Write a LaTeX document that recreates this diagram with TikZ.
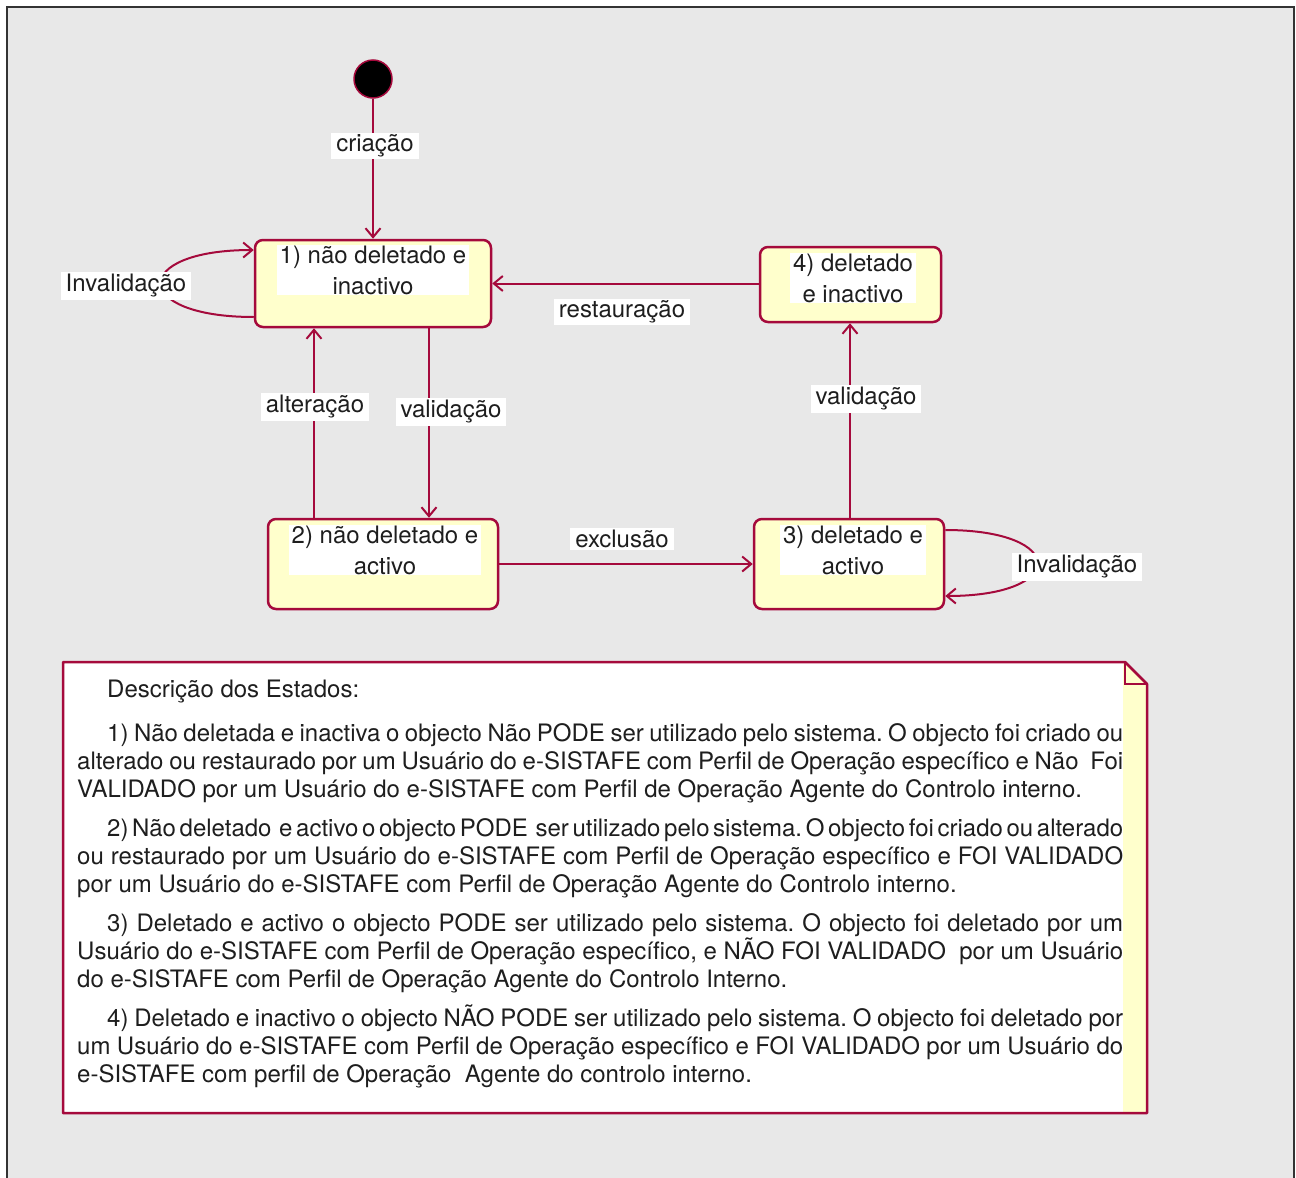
\documentclass[tikz,border=0pt]{standalone}
\usepackage{fontspec}
\setmainfont{TeX Gyre Heros}
\usepackage{tikz}
\usetikzlibrary{arrows.meta, positioning, calc}
\definecolor{umlred}{RGB}{165,10,60}
\definecolor{umlyellow}{RGB}{255,255,204}
\definecolor{bggray}{RGB}{232,232,232}
\definecolor{txtdark}{RGB}{30,30,30}
\newcommand\diagfont{\fontsize{24}{31}\selectfont}
\newcommand\notefont{\fontsize{24}{28}\selectfont\spaceskip=0.278em plus 0.4em minus 0.16em\relax
  \frenchspacing\hyphenpenalty=10000\relax}
\tikzset{
  state/.style={rectangle, draw=umlred, fill=umlyellow, line width=2.5pt,
    rounded corners=8pt, inner sep=0pt},
  statetext/.style={fill=white, text=txtdark, align=center, font=\diagfont,
    inner xsep=3pt, inner ysep=1pt},
  lbl/.style={fill=white, text=txtdark, font=\diagfont, inner xsep=5pt, inner ysep=2pt},
  trans/.style={-{Straight Barb[length=9pt, width=15pt, line width=2pt]},
    draw=umlred, line width=2pt},
  initial/.style={circle, draw=umlred, fill=black, line width=1.5pt,
    minimum size=38pt, inner sep=0pt}
}

\begin{document}
\begin{tikzpicture}[x=1pt, y=-1pt]
  % Frame
  \useasboundingbox (0,0) rectangle (1296,1178);
  \fill[white] (0,0) rectangle (1296,1178);
  \fill[bggray] (7,7) rectangle (1294,1178);
  \draw[line width=2pt, draw=black!80] (7,1178) -- (7,7) -- (1294,7) -- (1294,1178);

  % States
  \node[initial] (init) at (373,79) {};
  \node[state, minimum width=236pt, minimum height=87pt] (s1) at (373,283.5) {};
  \node[state, minimum width=230pt, minimum height=90pt] (s2) at (383,564) {};
  \node[state, minimum width=190pt, minimum height=90pt] (s3) at (849,564) {};
  \node[state, minimum width=181pt, minimum height=75pt] (s4) at (850.5,284.5) {};

  % Transitions
  \coordinate (s2a) at (314,519);
  \coordinate (s1b) at (429,327);
  \coordinate (s3a) at (850,519);
  \draw[trans] (init) -- (s1);
  \draw[trans] (s2a) -- (s2a |- s1.south);
  \draw[trans] (s1b) -- (s1b |- s2.north);
  \draw[trans] (s2) -- (s3);
  \draw[trans] (s3a) -- (s3a |- s4.south);
  \draw[trans] (s4.west |- s1.east) -- (s1.east);
  % self loops
  \draw[trans] (s1.west |- 0,317) .. controls (130,317) and (130,250) .. (s1.west |- 0,250);
  \draw[trans] (s3.east |- 0,530) .. controls (1068,530) and (1068,596) .. (s3.east |- 0,596);

  % State texts
  \node[statetext] (s1txt) at (373,270) {1) não deletado e\\inactivo};
  \node[statetext] (s2txt) at (385,550) {2) não deletado e\\activo};
  \node[statetext] (s3txt) at (853,550) {3) deletado e\\activo};
  \node[statetext] (s4txt) at (853,278) {4) deletado\\e inactivo};

  % Transition labels
  \node[lbl] (lcria) at (375,146) {criação};
  \node[lbl] (linv1) at (126,286) {Invalidação};
  \node[lbl] (lalt) at (315,407) {alteração};
  \node[lbl] (lval1) at (451,412) {validação};
  \node[lbl] (lrest) at (622,312) {restauração};
  \node[lbl] (lexcl) at (622,539) {exclusão};
  \node[lbl] (lval2) at (866,399) {validação};
  \node[lbl] (linv3) at (1077,567) {Invalidação};

  % Note
  \fill[white] (63,662) -- (1125,662) -- (1147,684) -- (1147,1113) -- (63,1113) -- cycle;
  \fill[umlyellow] (1123,662) -- (1125,662) -- (1147,684) -- (1147,1113) -- (1123,1113) -- cycle;
  \draw[umlred, line width=1.5pt] (1125,662) -- (1125,684) -- (1147,684);
  \draw[umlred, line width=2.5pt, line join=round] (63,662) -- (1125,662) -- (1147,684) -- (1147,1113) -- (63,1113) -- cycle;

  \node[anchor=north west, inner sep=0pt, text width=1046pt, align=justify,
    font=\notefont, text=txtdark] (desc) at (77,677.5) {%
    \strut\hspace*{30pt}Descrição dos Estados:\par\vspace{16pt}
    \hspace*{30pt}1) Não deletada e inactiva o objecto Não PODE ser utilizado pelo sistema. O objecto foi criado ou\linebreak
    alterado ou restaurado por um Usuário do e-SISTAFE com Perfil de Operação específico e Não\ \ Foi\linebreak
    VALIDADO por um Usuário do e-SISTAFE com Perfil de Operação Agente do Controlo interno.\par\vspace{11pt}
    \hspace*{30pt}2) Não deletado\hspace{4pt} e activo o objecto PODE\hspace{4pt} ser utilizado pelo sistema. O objecto foi criado ou alterado\linebreak
    ou restaurado por um Usuário do e-SISTAFE com Perfil de Operação específico e FOI VALIDADO\linebreak
    por um Usuário do e-SISTAFE com Perfil de Operação Agente do Controlo interno.\par\vspace{11pt}
    \hspace*{30pt}3) Deletado e activo o objecto PODE ser utilizado pelo sistema. O objecto foi deletado por um\linebreak
    Usuário do e-SISTAFE com Perfil de Operação específico, e NÃO FOI VALIDADO\ \ por um Usuário\linebreak
    do e-SISTAFE com Perfil de Operação Agente do Controlo Interno.\par\vspace{11pt}
    \hspace*{30pt}4) Deletado e inactivo o objecto NÃO PODE ser utilizado pelo sistema. O objecto foi deletado por\linebreak
    um Usuário do e-SISTAFE com Perfil de Operação específico e FOI VALIDADO por um Usuário do\linebreak
    e-SISTAFE com perfil de Operação\ \ Agente do controlo interno.};
\end{tikzpicture}
\end{document}
